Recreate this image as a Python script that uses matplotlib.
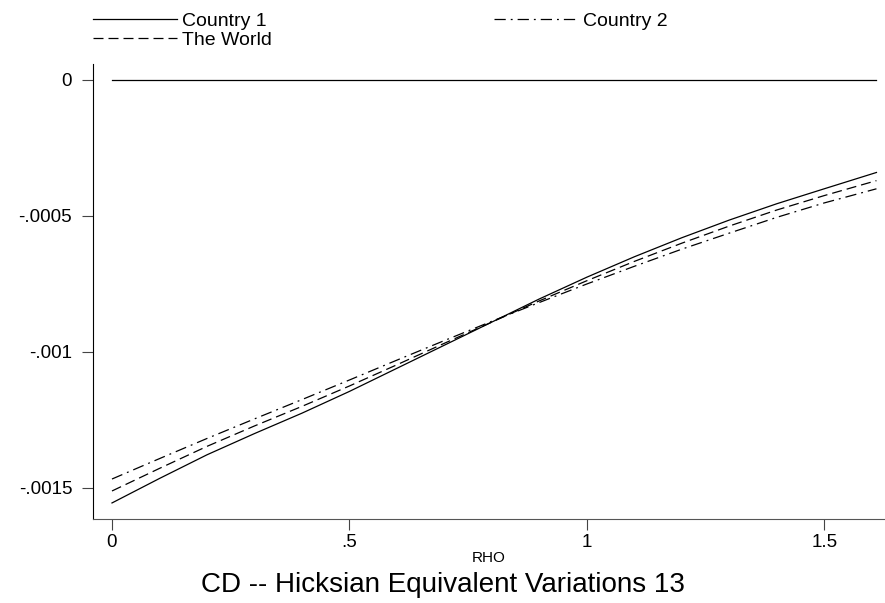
import numpy as np
import matplotlib.pyplot as plt

plt.rcParams['font.family'] = ['Liberation Sans', 'DejaVu Sans']

rho = [0.0, 0.1, 0.2, 0.3, 0.4, 0.5, 0.6, 0.7, 0.8, 0.9, 1.0, 1.1, 1.2, 1.3, 1.4, 1.5, 1.61]
country1 = [-0.001555, -0.001465, -0.001378, -0.001300, -0.001225, -0.001145, -0.001060, -0.000975,
            -0.000890, -0.000805, -0.000725, -0.000650, -0.000580, -0.000515, -0.000455, -0.000400, -0.000340]
world = [-0.001511, -0.001428, -0.001347, -0.001272, -0.001200, -0.001125, -0.001047, -0.000968,
         -0.000890, -0.000812, -0.000738, -0.000667, -0.000600, -0.000537, -0.000478, -0.000425, -0.000370]
country2 = [-0.001467, -0.001392, -0.001318, -0.001246, -0.001175, -0.001103, -0.001030, -0.000958,
            -0.000887, -0.000818, -0.000750, -0.000685, -0.000622, -0.000563, -0.000505, -0.000452, -0.000400]

xticks = [0, 0.5, 1, 1.5]
xticklabels = ['0', '.5', '1', '1.5']
yticks = [0, -0.0005, -0.001, -0.0015]
yticklabels = ['0', '-.0005', '-.001', '-.0015']

fig = plt.figure(figsize=(8.85, 6.03), dpi=100)
ax = fig.add_axes([93/885, 84/603, 792/885, 455/603])

lw = 0.9
ax.plot([rho[0], rho[-1]], [0, 0], color='black', lw=lw)
l1, = ax.plot(rho, country1, color='black', lw=lw, label='Country 1')
lw_, = ax.plot(rho, world, color='black', lw=lw, dashes=(8, 4), label='The World')
l2, = ax.plot(rho, country2, color='black', lw=lw, dashes=(9, 4, 1.5, 4), label='Country 2')

ax.set_xlim(-0.040, 1.628)
ax.set_ylim(-0.001614, 0.0000588)
ax.set_xticks(xticks)
ax.set_xticklabels(xticklabels)
ax.set_yticks(yticks)
ax.set_yticklabels(yticklabels)
ax.tick_params(length=8, width=0.8, color='#444444', labelsize=13.5)
ax.tick_params(axis='y', pad=7)
ax.tick_params(axis='x', pad=3)
for s in ['top', 'right']:
    ax.spines[s].set_visible(False)
for s in ['left', 'bottom']:
    ax.spines[s].set_linewidth(0.8)
ax.spines['bottom'].set_color('#555555')
ax.set_xlabel('RHO', fontsize=11, labelpad=0)

fig.legend(handles=[l1, lw_, l2], loc='upper left', bbox_to_anchor=(93/885, 1 - 12/603),
           ncol=2, frameon=False, fontsize=14, handlelength=4.3, handletextpad=0.3,
           columnspacing=11.4, labelspacing=0.1, borderpad=0, borderaxespad=0)

fig.text(0.5, 1 - 585/603, 'CD -- Hicksian Equivalent Variations 13', ha='center', va='center', fontsize=20)

fig.savefig('out.png', dpi=100)
